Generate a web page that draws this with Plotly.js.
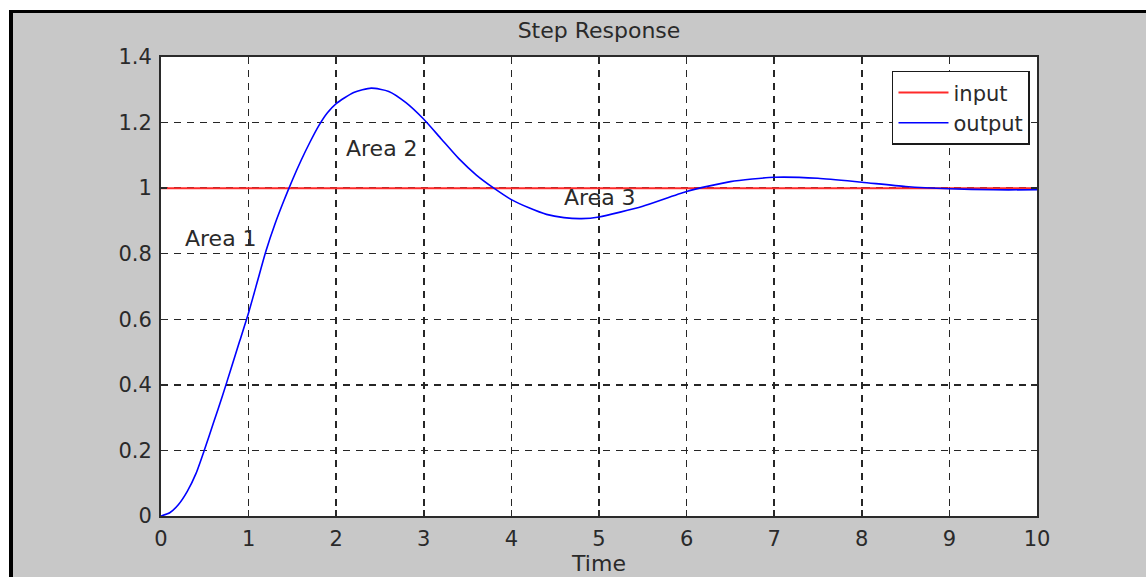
<!DOCTYPE html>
<html>
<head>
<meta charset="utf-8">
<script src="https://cdn.plot.ly/plotly-3.0.1.min.js"></script>
<style>
  html, body { margin: 0; padding: 0; background: #ffffff; width: 1146px; height: 577px; overflow: hidden; }
  #frame { position: absolute; left: 9px; top: 10px; border-left: 4px solid #000; border-top: 3px solid #000; }
  #chart { width: 1133px; height: 564px; }
</style>
</head>
<body>
<div id="frame"><div id="chart"></div></div>
<script>
// ---- data ----
const inputTime = [0, 10];
const inputValue = [1, 1];

const outputTime = [0, 0.1, 0.2, 0.3, 0.4, 0.5, 0.6, 0.7, 0.8, 0.9, 1.0, 1.1, 1.2, 1.3, 1.4, 1.5, 1.6, 1.7, 1.8, 1.9, 2.0, 2.2, 2.4, 2.6, 2.8, 3.0, 3.2, 3.4, 3.6, 3.8, 4.0, 4.2, 4.4, 4.6, 4.8, 5.0, 5.5, 6.0, 6.5, 7.0, 7.5, 8.0, 8.5, 9.0, 9.5, 10];
const outputValue = [0, 0.01, 0.035, 0.075, 0.13, 0.205, 0.285, 0.365, 0.45, 0.535, 0.62, 0.715, 0.81, 0.89, 0.96, 1.025, 1.085, 1.14, 1.19, 1.23, 1.258, 1.292, 1.305, 1.295, 1.26, 1.21, 1.15, 1.09, 1.04, 1.0, 0.965, 0.94, 0.92, 0.91, 0.907, 0.912, 0.945, 0.99, 1.02, 1.033, 1.03, 1.018, 1.005, 0.998, 0.995, 0.995];

const xTickVals = [0, 1, 2, 3, 4, 5, 6, 7, 8, 9, 10];
const xTickText = ['0', '1', '2', '3', '4', '5', '6', '7', '8', '9', '10'];
const yTickVals = [0, 0.2, 0.4, 0.6, 0.8, 1, 1.2, 1.4];
const yTickText = ['0', '0.2', '0.4', '0.6', '0.8', '1', '1.2', '1.4'];

const areaLabels = ['Area 1', 'Area 2', 'Area 3'];
const areaX = [0.68, 2.52, 5.01];
const areaY = [0.845, 1.122, 0.97];

const seriesNames = ['input', 'output'];
const chartTitle = 'Step Response';
const xTitle = 'Time';

// ---- chart ----
const FONT = 'DejaVu Sans, Arial, sans-serif';
const TXT = '#2a2a2a';
const traces = [
  { x: inputTime, y: inputValue, name: seriesNames[0], type: 'scatter', mode: 'lines',
    line: { color: '#ff2a2a', width: 2 } },
  { x: outputTime, y: outputValue, name: seriesNames[1], type: 'scatter', mode: 'lines',
    line: { color: '#0000ff', width: 1.6, shape: 'spline', smoothing: 0.6 } }
];

const annotations = areaLabels.map((t, i) => ({
  x: areaX[i], y: areaY[i], xref: 'x', yref: 'y', text: t, showarrow: false,
  font: { family: FONT, size: 22, color: TXT }
}));

const axisCommon = {
  showline: true, linecolor: '#2a2a2a', linewidth: 2, mirror: 'ticks',
  ticks: 'inside', ticklen: 6, tickwidth: 1.5, tickcolor: '#2a2a2a',
  showgrid: true, gridcolor: '#262626', gridwidth: 1.5, griddash: '7px,6px',
  zeroline: false, tickmode: 'array',
  tickfont: { family: FONT, size: 21, color: TXT }
};

const layout = {
  width: 1133, height: 564,
  margin: { l: 148, r: 109, t: 44, b: 61, pad: 0 },
  paper_bgcolor: '#c8c8c8', plot_bgcolor: '#ffffff',
  title: { text: chartTitle, x: 0.5, xref: 'paper', y: 0.97, yanchor: 'middle',
           font: { family: FONT, size: 22, color: TXT } },
  xaxis: Object.assign({}, axisCommon, {
    range: [0, 10], tickvals: xTickVals, ticktext: xTickText, ticklabelstandoff: 3,
    title: { text: xTitle, standoff: 0, font: { family: FONT, size: 22, color: TXT } }
  }),
  yaxis: Object.assign({}, axisCommon, {
    range: [0, 1.4], tickvals: yTickVals, ticktext: yTickText, ticklabelstandoff: 3
  }),
  showlegend: true,
  legend: {
    x: 0.992, xanchor: 'right', y: 0.97, yanchor: 'top',
    bgcolor: '#ffffff', bordercolor: '#1a1a1a', borderwidth: 1.5,
    font: { family: FONT, size: 21, color: TXT },
    itemwidth: 50, tracegroupgap: 0
  },
  annotations: annotations
};

Plotly.newPlot('chart', traces, layout, { displayModeBar: false, staticPlot: true });
</script>
</body>
</html>
